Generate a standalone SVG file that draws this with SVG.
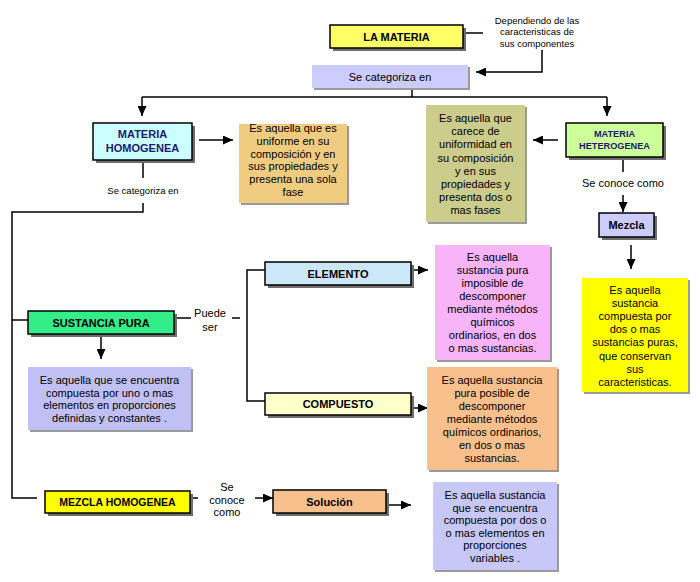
<svg xmlns="http://www.w3.org/2000/svg" width="700" height="582" viewBox="0 0 700 582">
<defs>
<marker id="ah" markerWidth="10" markerHeight="9" refX="10" refY="4.5" orient="auto" markerUnits="userSpaceOnUse">
<path d="M0,0 L10,4.5 L0,9 z" fill="#000"/>
</marker>
<style>
text{font-family:"Liberation Sans",Arial,sans-serif;fill:#000;text-anchor:middle}
.d{font-size:11px}
.s{font-size:9.5px}
.b{font-size:11px;font-weight:bold}
.nv{fill:#1a1a6e}
.nb{stroke:#000;stroke-width:1.5}
.sh{fill:#6e6e6e}
.dsh{fill:#9a9a9a}
.c{fill:none;stroke:#000;stroke-width:1.5}
.a{fill:none;stroke:#000;stroke-width:1.5;marker-end:url(#ah)}
</style>
</defs>
<rect width="700" height="582" fill="#fff"/>

<g id="connectors">
<line class="c" x1="463" y1="33" x2="483" y2="33"/>
<path class="a" d="M542,50 V72 H476"/>
<path class="c" d="M412,88 V97"/>
<path class="c" d="M142,97 H607"/>
<path class="a" d="M142,97 V116"/>
<path class="a" d="M607,97 V116"/>
<path class="a" d="M199,140 H233"/>
<path class="a" d="M558,140 H533"/>
<path class="c" d="M143,160 V178"/>
<path class="c" d="M143,203 V212 H12 V498 H37"/>
<path class="c" d="M12,320 H28"/>
<path class="c" d="M623,157 V172"/>
<path class="a" d="M623,195 V212"/>
<path class="a" d="M631,245 V269"/>
<path class="c" d="M174,318 H191"/>
<path class="c" d="M232,318 H240"/>
<path class="c" d="M265,270 H247 V401 H265"/>
<path class="a" d="M413,270 H428"/>
<path class="a" d="M413,408 H428"/>
<path class="a" d="M101,336 V359"/>
<path class="c" d="M191,498 H198"/>
<path class="a" d="M255,498 H273"/>
<path class="a" d="M388,505 H411"/>
</g>

<g id="note-top">
<text class="s" x="537" y="23.5">Dependiendo de las</text>
<text class="s" x="537" y="35">caracteristicas de</text>
<text class="s" x="537" y="46.5">sus componentes</text>
</g>

<g id="la-materia">
<rect class="sh" x="333" y="28" width="133" height="23"/>
<rect class="nb" x="330" y="25" width="133" height="23" fill="#ffff66"/>
<text class="b" x="396.5" y="40.5">LA MATERIA</text>
</g>

<g id="se-categoriza">
<rect class="dsh" x="314" y="67" width="156" height="23"/>
<rect x="312" y="65" width="156" height="23" fill="#ccccff"/>
<text class="d" x="390" y="80.5">Se categoriza en</text>
</g>

<g id="materia-homogenea">
<rect class="sh" x="96" y="126" width="99" height="37"/>
<rect class="nb" x="93" y="123" width="99" height="37" fill="#ccffff"/>
<text class="b nv" x="142.5" y="138">MATERIA</text>
<text class="b nv" x="142.5" y="151.5">HOMOGENEA</text>
</g>

<g id="desc-homogenea">
<rect class="dsh" x="241" y="126" width="108" height="79"/>
<rect x="239" y="124" width="108" height="79" fill="#f0cc80"/>
<text class="d" x="293" y="132">Es aquella que es</text>
<text class="d" x="293" y="144.8">uniforme en su</text>
<text class="d" x="293" y="157.6">composición y en</text>
<text class="d" x="293" y="170.4">sus propiedades y</text>
<text class="d" x="293" y="183.2">presenta una sola</text>
<text class="d" x="293" y="196">fase</text>
</g>

<g id="label-categoriza">
<text class="s" x="143" y="194">Se categoriza en</text>
</g>

<g id="desc-heterogenea">
<rect class="dsh" x="428" y="107" width="99" height="117"/>
<rect x="426" y="105" width="99" height="117" fill="#cccc8c"/>
<text class="d" x="475.5" y="122">Es aquella que</text>
<text class="d" x="475.5" y="135.2">carece de</text>
<text class="d" x="475.5" y="148.4">uniformidad en</text>
<text class="d" x="475.5" y="161.6">su composición</text>
<text class="d" x="475.5" y="174.8">y en sus</text>
<text class="d" x="475.5" y="188">propiedades y</text>
<text class="d" x="475.5" y="201.2">presenta dos o</text>
<text class="d" x="475.5" y="214.4">mas fases</text>
</g>

<g id="materia-heterogenea">
<rect class="sh" x="569" y="126" width="97" height="34"/>
<rect class="nb" x="566" y="123" width="97" height="34" fill="#ccff99"/>
<text class="nv" x="614.5" y="136.5" style="font-size:9.2px;font-weight:bold">MATERIA</text>
<text class="nv" x="614.5" y="148.5" style="font-size:9.2px;font-weight:bold">HETEROGENEA</text>
</g>

<g id="label-conoce-right">
<text class="d" x="623" y="187">Se conoce como</text>
</g>

<g id="mezcla">
<rect class="sh" x="602" y="216" width="55" height="24"/>
<rect class="nb" x="599" y="213" width="55" height="24" fill="#ccccff"/>
<text class="b" x="626.5" y="229">Mezcla</text>
</g>

<g id="desc-mezcla">
<rect class="dsh" x="584" y="280" width="106" height="114"/>
<rect x="582" y="278" width="106" height="114" fill="#ffff00"/>
<text class="d" x="635" y="294">Es aquella</text>
<text class="d" x="635" y="307.1">sustancia</text>
<text class="d" x="635" y="320.2">compuesta por</text>
<text class="d" x="635" y="333.3">dos o mas</text>
<text class="d" x="635" y="346.4">sustancias puras,</text>
<text class="d" x="635" y="359.5">que conservan</text>
<text class="d" x="635" y="372.6">sus</text>
<text class="d" x="635" y="385.7">caracteristicas.</text>
</g>

<g id="elemento">
<rect class="sh" x="268" y="265" width="146" height="23"/>
<rect class="nb" x="265" y="262" width="146" height="23" fill="#cce8f8"/>
<text class="b" x="338" y="277.5">ELEMENTO</text>
</g>

<g id="desc-elemento">
<rect class="dsh" x="437" y="247" width="115" height="115"/>
<rect x="435" y="245" width="115" height="115" fill="#f8b4f8"/>
<text class="d" x="492.5" y="261">Es aquella</text>
<text class="d" x="492.5" y="274">sustancia pura</text>
<text class="d" x="492.5" y="287">imposible de</text>
<text class="d" x="492.5" y="300">descomponer</text>
<text class="d" x="492.5" y="313">mediante métodos</text>
<text class="d" x="492.5" y="326">químicos</text>
<text class="d" x="492.5" y="339">ordinarios, en dos</text>
<text class="d" x="492.5" y="352">o mas sustancias.</text>
</g>

<g id="sustancia-pura">
<rect class="sh" x="31" y="314" width="146" height="23"/>
<rect class="nb" x="28" y="311" width="146" height="23" fill="#33ee88"/>
<text class="b" x="101" y="326.5">SUSTANCIA PURA</text>
</g>

<g id="label-puede">
<text class="d" x="210" y="317">Puede</text>
<text class="d" x="210" y="331">ser</text>
</g>

<g id="compuesto">
<rect class="sh" x="268" y="396" width="146" height="22"/>
<rect class="nb" x="265" y="393" width="146" height="22" fill="#ffffcc"/>
<text class="b" x="338" y="408">COMPUESTO</text>
</g>

<g id="desc-compuesto">
<rect class="dsh" x="429" y="369" width="130" height="103"/>
<rect x="427" y="367" width="130" height="103" fill="#f8c08c"/>
<text class="d" x="492" y="384">Es aquella sustancia</text>
<text class="d" x="492" y="397">pura posible de</text>
<text class="d" x="492" y="410">descomponer</text>
<text class="d" x="492" y="423">mediante métodos</text>
<text class="d" x="492" y="436">químicos ordinarios,</text>
<text class="d" x="492" y="449">en dos o mas</text>
<text class="d" x="492" y="462">sustancias.</text>
</g>

<g id="desc-sustancia">
<rect class="dsh" x="30" y="369" width="163" height="63"/>
<rect x="28" y="367" width="163" height="63" fill="#c0c0f4"/>
<text class="d" x="109.5" y="384">Es aquella que se encuentra</text>
<text class="d" x="109.5" y="396.5">compuesta por uno o mas</text>
<text class="d" x="109.5" y="409">elementos en proporciones</text>
<text class="d" x="109.5" y="421.5">definidas y constantes .</text>
</g>

<g id="mezcla-homogenea">
<rect class="sh" x="48" y="494" width="145" height="22"/>
<rect class="nb" x="45" y="491" width="145" height="22" fill="#ffff00"/>
<text class="b" x="117.5" y="506" style="font-size:10.5px">MEZCLA HOMOGENEA</text>
</g>

<g id="label-conoce-bottom">
<text class="d" x="227" y="491">Se</text>
<text class="d" x="227" y="504">conoce</text>
<text class="d" x="227" y="516">como</text>
</g>

<g id="solucion">
<rect class="sh" x="276" y="493" width="113" height="23"/>
<rect class="nb" x="273" y="490" width="113" height="23" fill="#f8c08c"/>
<text class="b" x="329.5" y="505.5">Solución</text>
</g>

<g id="desc-solucion">
<rect class="dsh" x="435" y="484" width="124" height="88"/>
<rect x="433" y="482" width="124" height="88" fill="#c8c8f8"/>
<text class="d" x="495" y="499">Es aquella sustancia</text>
<text class="d" x="495" y="511.6">que se encuentra</text>
<text class="d" x="495" y="524.2">compuesta por dos o</text>
<text class="d" x="495" y="536.8">o mas elementos en</text>
<text class="d" x="495" y="549.4">proporciones</text>
<text class="d" x="495" y="562">variables .</text>
</g>
</svg>
